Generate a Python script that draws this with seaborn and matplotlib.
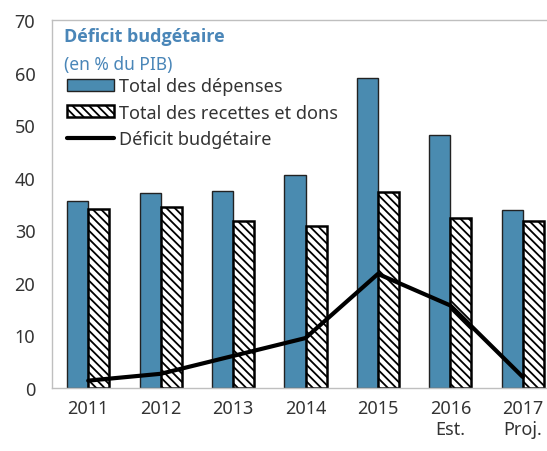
import numpy as np
import pandas as pd
import matplotlib
matplotlib.use("Agg")
import matplotlib.pyplot as plt
import seaborn as sns
from matplotlib.patches import Patch
from matplotlib.lines import Line2D

years = ["2011", "2012", "2013", "2014", "2015", "2016", "2017"]
tick_labels = ["2011", "2012", "2013", "2014", "2015", "2016\nEst.", "2017\nProj."]
depenses = [35.5, 37.1, 37.5, 40.6, 59.0, 48.2, 33.9]
recettes = [34.1, 34.5, 31.8, 30.9, 37.3, 32.4, 31.7]
deficit = [1.4, 2.7, 6.1, 9.5, 21.7, 15.7, 2.1]
series_names = ["Total des dépenses", "Total des recettes et dons", "Déficit budgétaire"]

sns.set_theme(style="white")
plt.rcParams['font.family'] = ['Noto Sans', 'DejaVu Sans']
plt.rcParams['hatch.linewidth'] = 1.3

BLUE = "#4a8bb0"
TXT = "#333333"
TITLE = "#4a86b8"
GRAY = "#bfbfbf"

df = pd.DataFrame({
    "year": years * 2,
    "value": depenses + recettes,
    "series": [series_names[0]] * 7 + [series_names[1]] * 7,
})

fig = plt.figure(figsize=(5.47, 4.52), dpi=100)
ax = fig.add_axes([52 / 547, 63 / 452, 507 / 547, 368 / 452])

sns.barplot(data=df, x="year", y="value", hue="series", palette=[BLUE, "white"],
            width=0.58, edgecolor="black", linewidth=1.5, saturation=1,
            legend=False, ax=ax)
for p in ax.containers[0]:
    p.set_edgecolor("#222222")
    p.set_linewidth(1.0)
for p in ax.containers[1]:
    p.set_hatch("\\\\\\\\")
    p.set_linewidth(1.8)

sns.lineplot(x=np.arange(len(years)), y=deficit, color="black", linewidth=3.0,
             ax=ax, legend=False)

ax.set_xlim(-0.5, 6.5)
ax.set_ylim(0, 70)
ax.set_yticks(range(0, 71, 10))
ax.set_xticks(range(len(years)))
ax.set_xticklabels(tick_labels)
ax.set_xticks(np.arange(-0.5, 7, 1), minor=True)
ax.tick_params(axis="x", which="major", length=0, labelsize=13, colors=TXT, pad=8)
ax.tick_params(axis="x", which="minor", length=5, direction="in", color=GRAY, width=1)
ax.tick_params(axis="y", which="major", length=5, direction="in", color=GRAY, width=1,
               labelsize=13, colors=TXT, pad=12)
ax.set_xlabel("")
ax.set_ylabel("")
for s in ["top", "left", "bottom", "right"]:
    ax.spines[s].set_color(GRAY)
    ax.spines[s].set_linewidth(1.0)
ax.spines["right"].set_visible(False)

ax.text(12 / 507, 1 - 16 / 368, "Déficit budgétaire", transform=ax.transAxes,
        fontsize=13, fontweight="bold", family=["Open Sans", "DejaVu Sans"],
        color=TITLE, va="center", ha="left")
ax.text(12 / 507, 1 - 44 / 368, "(en % du PIB)", transform=ax.transAxes,
        fontsize=12.5, color=TITLE, va="center", ha="left")

handles = [
    Patch(facecolor=BLUE, edgecolor="#222222", linewidth=1.0),
    Patch(facecolor="white", edgecolor="black", hatch="\\\\\\\\", linewidth=1.8),
    Line2D([0], [0], color="black", linewidth=3.0),
]
leg = ax.legend(handles, series_names, loc="upper left",
                bbox_to_anchor=(15 / 507, 1 - 57 / 368), frameon=False,
                fontsize=13, handlelength=2.6, handleheight=0.65,
                handletextpad=0.3, labelspacing=0.48, borderaxespad=0,
                borderpad=0)
for t in leg.get_texts():
    t.set_color(TXT)

fig.savefig("out.png", dpi=100)
